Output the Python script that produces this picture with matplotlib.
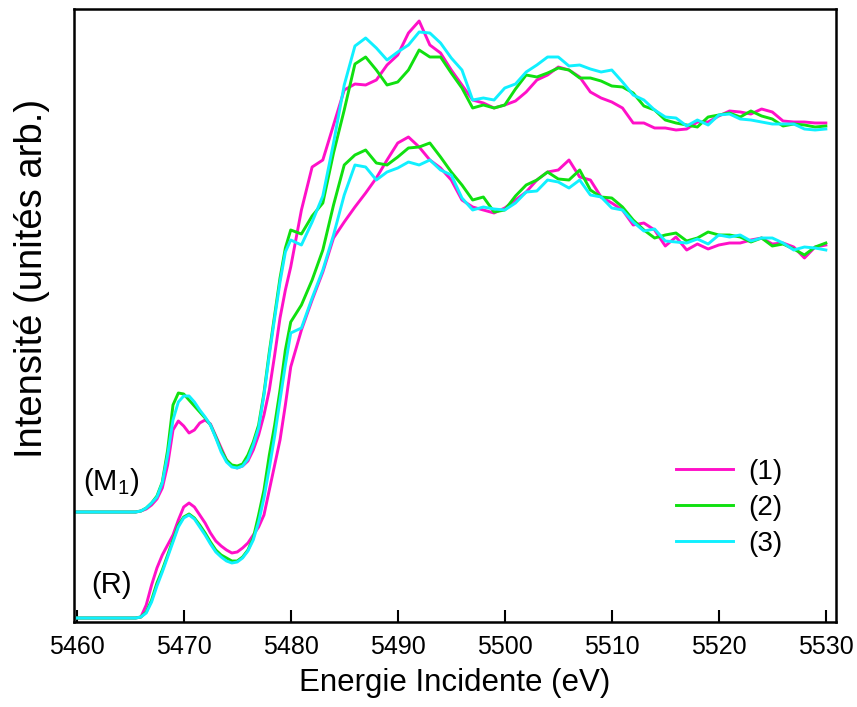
import numpy as np
import matplotlib
matplotlib.use("Agg")
import matplotlib.pyplot as plt

plt.rcParams['font.family'] = ['Liberation Sans', 'DejaVu Sans']
plt.rcParams['mathtext.fontset'] = 'custom'
plt.rcParams['mathtext.rm'] = 'Liberation Sans'

# energies (eV): finer sampling across the pre-edge
energy = np.array([5460, 5462, 5464] + list(np.arange(5465, 5480.5, 0.5)) + list(range(5481, 5531)), dtype=float)

# upper group, spectra (M1)
m1_1 = [110, 110, 110, 110, 110, 111, 113, 117, 123, 134, 157, 192, 201, 196, 189, 192, 199, 202, 198, 186,
        174, 162, 156, 154, 156, 161, 172, 187, 207, 232, 267, 304, 332, 355,
        412, 455, 462, 497, 532, 538, 537, 542, 557, 567, 589, 601, 577, 569, 552, 537, 522, 519, 514, 517,
        521, 530, 542, 547, 555, 552, 545, 530, 524, 520, 514, 499, 499, 494, 494, 492, 493, 500, 500, 506,
        511, 510, 508, 513, 510, 501, 500, 500, 499, 499]
m1_2 = [110, 110, 110, 110, 110, 111, 114, 119, 126, 140, 172, 217, 229, 228, 222, 216, 210, 204, 197, 185,
        172, 162, 157, 156, 158, 167, 180, 197, 229, 270, 307, 344, 374, 392,
        388, 406, 419, 469, 512, 558, 565, 552, 537, 540, 552, 572, 565, 565, 549, 534, 514, 517, 514, 517,
        533, 547, 545, 549, 554, 552, 544, 544, 541, 536, 535, 529, 516, 512, 502, 499, 497, 495, 505, 507,
        509, 505, 511, 506, 503, 496, 498, 497, 495, 496]
m1_3 = [110, 110, 110, 110, 110, 111, 114, 119, 125, 139, 167, 202, 220, 226, 226, 220, 212, 205, 197, 184,
        170, 160, 155, 154, 156, 163, 177, 194, 227, 267, 304, 340, 370, 382,
        377, 400, 426, 479, 537, 576, 584, 574, 562, 570, 577, 590, 589, 579, 564, 552, 522, 524, 522, 534,
        538, 550, 557, 565, 565, 556, 557, 553, 550, 552, 540, 527, 522, 512, 505, 504, 496, 502, 497, 507,
        508, 503, 502, 500, 498, 498, 498, 493, 492, 493]

# lower group, spectra (R)
r_1 = [4, 4, 4, 4, 4, 5, 17, 37, 54, 67, 77, 87, 102, 115, 119, 115, 107, 99, 89, 81,
       76, 72, 69, 70, 74, 79, 87, 95, 107, 132, 157, 182, 217, 255,
       292, 322, 350, 384, 400, 415, 429, 444, 462, 479, 485, 475, 462, 454, 442, 422, 415, 412, 409, 414,
       422, 430, 442, 450, 452, 462, 445, 442, 425, 419, 412, 397, 399, 392, 376, 385, 372, 378, 373, 377,
       379, 379, 382, 384, 378, 379, 375, 364, 375, 377]
r_2 = [4, 4, 4, 4, 4, 5, 10, 22, 39, 52, 67, 82, 97, 105, 108, 104, 97, 89, 80, 72,
       67, 64, 61, 61, 65, 72, 84, 107, 132, 167, 197, 232, 272, 300,
       317, 342, 372, 417, 457, 467, 472, 459, 457, 465, 474, 475, 479, 465, 450, 437, 422, 425, 410, 412,
       426, 437, 442, 450, 443, 442, 452, 432, 425, 424, 415, 402, 392, 384, 387, 389, 381, 384, 390, 387,
       387, 385, 380, 384, 376, 378, 373, 367, 375, 379]
r_3 = [4, 4, 4, 4, 4, 5, 9, 20, 36, 50, 65, 80, 95, 104, 107, 103, 95, 87, 78, 70,
       65, 61, 59, 60, 64, 71, 82, 100, 124, 154, 186, 222, 257, 289,
       294, 324, 352, 387, 427, 457, 455, 442, 450, 454, 460, 457, 462, 452, 447, 424, 412, 415, 413, 412,
       419, 430, 431, 442, 440, 434, 442, 427, 425, 414, 412, 400, 391, 393, 381, 380, 379, 383, 378, 387,
       385, 387, 381, 384, 384, 379, 372, 375, 374, 372]

labels = ['(1)', '(2)', '(3)']
colors = ['#ff10c8', '#10e010', '#10f0ff']

fig = plt.figure(figsize=(8.57, 7.07), dpi=100)
ax = fig.add_axes([74 / 857, 85 / 707, 762 / 857, 613 / 707])

for ys, c, lab in zip([m1_1, m1_2, m1_3], colors, labels):
    ax.plot(energy, ys, color=c, lw=2.1, label=lab)
for ys, c in zip([r_1, r_2, r_3], colors):
    ax.plot(energy, ys, color=c, lw=2.1)

ax.set_xlim(5459.75, 5530.95)
ax.set_ylim(0, 613)
ax.set_xticks(range(5460, 5531, 10))
ax.set_yticks([])
ax.tick_params(axis='x', direction='in', length=8.5, width=1.5, labelsize=18, pad=9, top=False)
for s in ax.spines.values():
    s.set_linewidth(1.8)

ax.set_xlabel('Energie Incidente (eV)', fontsize=22.5, labelpad=7)
ax.set_ylabel('Intensité (unités arb.)', fontsize=27.5)
ax.yaxis.set_label_coords(-0.031, 0.561)

ax.text(5460.6, 140, r'(M$_\mathregular{1}$)', fontsize=21, va='center', ha='left')
ax.text(5461.4, 37, '(R)', fontsize=21, va='center', ha='left')

leg = ax.legend(loc='upper left', bbox_to_anchor=(0.79, 0.266), frameon=False, fontsize=20,
                handlelength=2.05, handletextpad=0.55, labelspacing=0.36, borderpad=0, borderaxespad=0)

fig.savefig('out.png', dpi=100)
